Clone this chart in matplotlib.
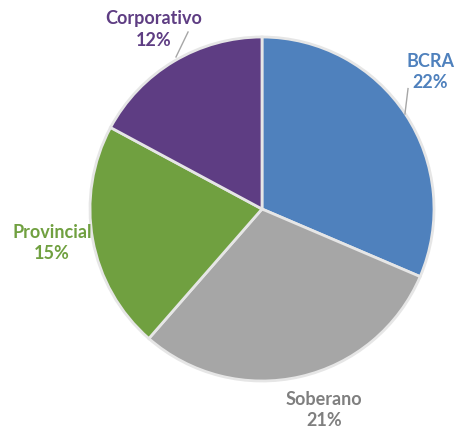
import matplotlib.pyplot as plt

categories = ["BCRA", "Soberano", "Provincial", "Corporativo"]
shares = [22, 21, 15, 12]
slice_colors = ["#4F81BD", "#A6A6A6", "#70A040", "#5E3D83"]
text_colors = ["#4F81BD", "#7F7F7F", "#70A040", "#5E3D83"]

plt.rcParams['font.family'] = ['Lato', 'DejaVu Sans']

fig = plt.figure(figsize=(4.55, 4.31), dpi=100)
ax = fig.add_axes([0, 0, 1, 1])
ax.pie(shares, colors=slice_colors, startangle=90, counterclock=False,
       radius=1.0, wedgeprops=dict(edgecolor="#E6E6E6", linewidth=2))

# label positions (data units, radius = 1)
label_pos = [(0.98, 0.80), (0.36, -1.165), (-1.22, -0.19), (-0.63, 1.05)]
for name, val, col, (x, y) in zip(categories, shares, text_colors, label_pos):
    ax.text(x, y, f"{name}\n{val}%", color=col, ha="center", va="center",
            fontsize=13, fontweight="bold", linespacing=1.3)

# leader lines
ax.plot([0.849, 0.831], [0.70, 0.552], color="#A6A6A6", lw=1)
ax.plot([-0.43, -0.50], [1.029, 0.884], color="#A6A6A6", lw=1)

ax.set_xlim(-262 / 172, (455 - 262) / 172)
ax.set_ylim(-(431 - 210) / 172, 210 / 172)
ax.set_aspect("auto")
ax.axis("off")

plt.savefig("out.png", dpi=100)
